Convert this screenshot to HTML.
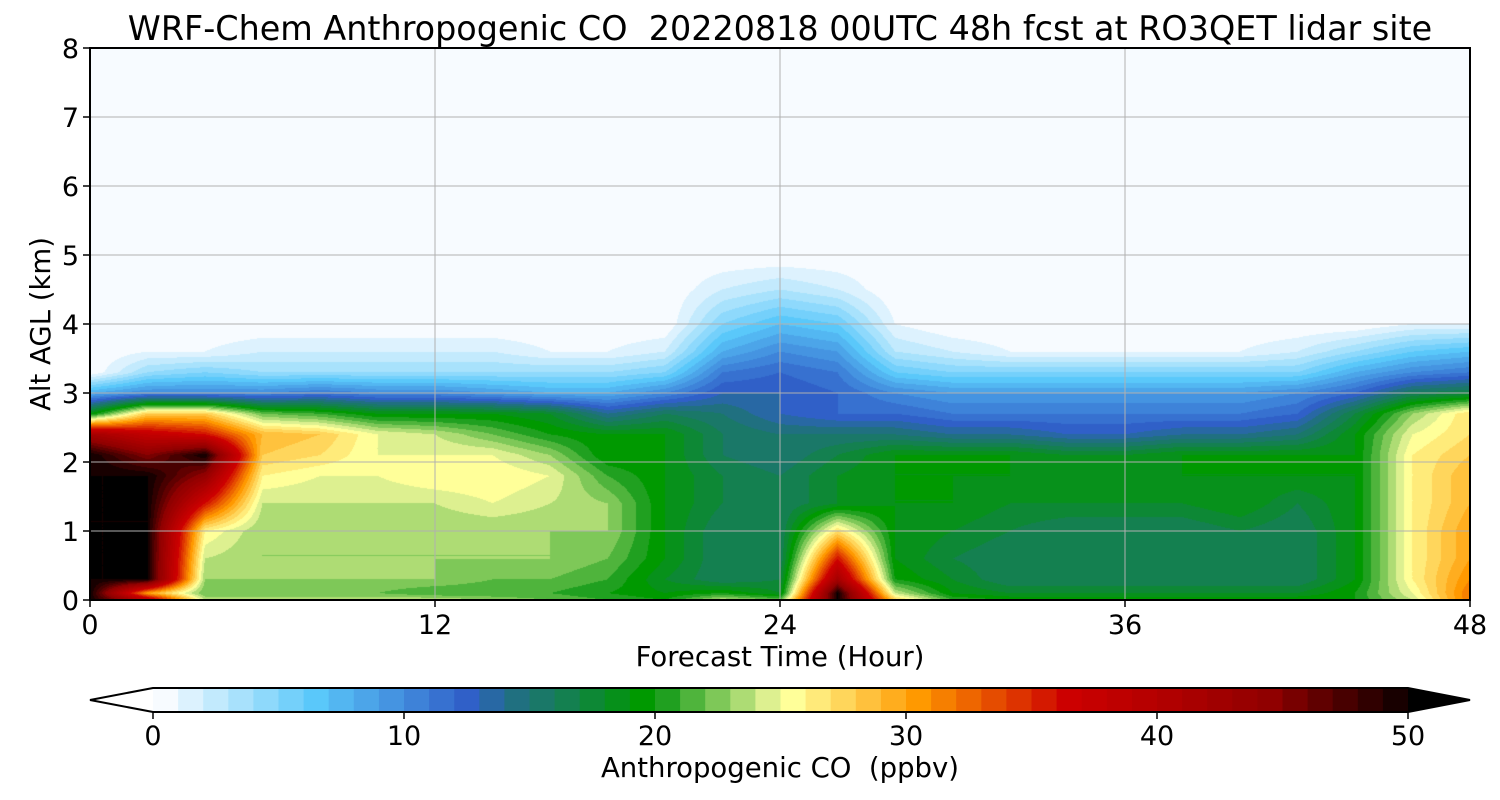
<!DOCTYPE html>
<html><head><meta charset="utf-8"><style>
body{margin:0;background:#fff;width:1500px;height:800px;overflow:hidden;font-family:"Liberation Sans","DejaVu Sans",sans-serif}
#wrap{position:relative;width:1500px;height:800px}
canvas{position:absolute;left:90px;top:48px}
svg{position:absolute;left:0;top:0}
</style></head><body><div id="wrap">
<canvas id="cv" width="1380" height="552"></canvas>
<svg id="sv" width="1500" height="800" font-family="DejaVu Sans, Liberation Sans, sans-serif">
<text x="780" y="40" text-anchor="middle" font-size="33.4" fill="#000">WRF-Chem Anthropogenic CO&#160; 20220818 00UTC 48h fcst at RO3QET lidar site</text>
<g id="grid"></g>
<rect x="90" y="48" width="1380" height="552" fill="none" stroke="#000" stroke-width="2"/>
<g id="axes"></g>
<text x="780" y="666" text-anchor="middle" font-size="27.5">Forecast Time (Hour)</text>
<text transform="translate(50,324) rotate(-90)" text-anchor="middle" font-size="27.5">Alt AGL (km)</text>
<g id="cbar"></g>
<text x="780" y="777" text-anchor="middle" font-size="27.5">Anthropogenic CO&#160; (ppbv)</text>
</svg></div>
<script>
const times=[0,2,4,6,8,10,12,14,16,18,20,22,24,26,28,30,32,34,36,38,40,42,44,46,48];
const alts=[0,0.1,0.3,0.6,1.0,1.4,1.8,2.1,2.4,2.7,3.0,3.3,3.6,4.0,4.5,5.0,8.0];
const vals=[
[50,40,24,24,24,24,24,23,22,21,20,24,22,50,28,21,20,20,20,20,20,20,20,24,32],
[50,30,22,22,22,22,21,21,21,20,19,20,18,50,24,19,18,18,18,18,18,18,20,25,32],
[50,50,23,23,23,23,23,22,22,21,18,16,17,42,20,18,16,16,16,16,16,16,19,26,31],
[50,50,24,23,23,23,23,23,23,22,19,16,16,36,19,17,16,16,16,16,16,16,19,26,30],
[50,50,26,23,23,23,23,23,23,23,19,16,16,27,19,18,17,16,16,16,17,16,19,26,30],
[50,50,36,24,24,24,24,25,24,23,19,17,16,18,19,19,18,18,18,18,19,17,19,26,29],
[50,50,44,26,25,25,26,26,25,21,19,17,16,18,19,19,19,19,19,19,19,19,19,26,29],
[50,45,50,28,27,25,25,25,23,19,19,16,15,17,19,19,19,18,18,19,19,19,19,26,28],
[42,38,36,29,28,25,24,22,20,19,19,16,15,15,15,14,14,13,13,14,14,15,19,25,27],
[19,28,28,22,21,19,19,19,18,14,16,15,13,12,12,11,11,11,11,11,11,12,17,23,27],
[8,10,10,10,11,10,10,9,8,8,10,13,13,12,10,9,9,9,9,9,9,10,12,16,17],
[0,4,5,4,4,4,4,4,4,4,5,11,12,11,6,5,5,5,5,5,5,5,8,10,11],
[0,1,1,2,2,2,2,2,1,1,2,8,10,9,3,2,1,1,1,1,1,2,4,6,7],
[0,0,0,0,0,0,0,0,0,0,0,5,7,6,1,0,0,0,0,0,0,0,0,1,1],
[0,0,0,0,0,0,0,0,0,0,0,2,3,2,0,0,0,0,0,0,0,0,0,0,0],
[0,0,0,0,0,0,0,0,0,0,0,0,0,0,0,0,0,0,0,0,0,0,0,0,0],
[0,0,0,0,0,0,0,0,0,0,0,0,0,0,0,0,0,0,0,0,0,0,0,0,0]];
const xTicks=[0,12,24,36,48];
const yTicks=[0,1,2,3,4,5,6,7,8];
const cTicks=[0,10,20,30,40,50];
const cmapV=[0,6,12,14,16,19,20,24,25,30,36,40,44,50];
const cmapC=['#f7fbff','#5ac8fa','#3060c8','#207080','#148050','#009900','#20a020','#ddf090','#ffff99','#ff9900','#cc0000','#b00000','#900000','#000000'];
const X=t=>90+t/48*1380, Y=z=>600-z/8*552;
function hex(h){return[parseInt(h.substr(1,2),16),parseInt(h.substr(3,2),16),parseInt(h.substr(5,2),16)]}
const CC=cmapC.map(hex);
function cmap(v){v=Math.max(0,Math.min(50,Math.floor(v)));
 for(let i=0;i<cmapV.length-1;i++){if(v<=cmapV[i+1]){const f=(v-cmapV[i])/(cmapV[i+1]-cmapV[i]);const a=CC[i],b=CC[i+1];return[a[0]+(b[0]-a[0])*f,a[1]+(b[1]-a[1])*f,a[2]+(b[2]-a[2])*f];}}
 return CC[CC.length-1];}
function seg(arr,v){for(let i=0;i<arr.length-1;i++)if(v<=arr[i+1])return i;return arr.length-2;}
const cv=document.getElementById('cv'),ctx=cv.getContext('2d');
const img=ctx.createImageData(1380,552);
for(let py=0;py<552;py++){const z=(600-(48+py+0.5))/552*8;const j=seg(alts,z);const fz=(z-alts[j])/(alts[j+1]-alts[j]);
 for(let px=0;px<1380;px++){const t=(px+0.5)/1380*48;const i=seg(times,t);const ft=(t-times[i])/(times[i+1]-times[i]);
  const v=(vals[j][i]*(1-ft)+vals[j][i+1]*ft)*(1-fz)+(vals[j+1][i]*(1-ft)+vals[j+1][i+1]*ft)*fz;
  const c=cmap(v),k=(py*1380+px)*4;img.data[k]=c[0];img.data[k+1]=c[1];img.data[k+2]=c[2];img.data[k+3]=255;}}
ctx.putImageData(img,0,0);
const NS='http://www.w3.org/2000/svg';
function el(tag,attrs,parent,txt){const e=document.createElementNS(NS,tag);for(const k in attrs)e.setAttribute(k,attrs[k]);if(txt!==undefined)e.textContent=txt;parent.appendChild(e);return e;}
const grid=document.getElementById('grid'),axes=document.getElementById('axes'),cbar=document.getElementById('cbar');
xTicks.forEach(t=>{const l=el('line',{x1:X(t),x2:X(t),y1:48,y2:600,stroke:'#b0b0b0','stroke-width':1},grid);
 
 
 el('line',{x1:X(t),x2:X(t),y1:600,y2:607,stroke:'#000','stroke-width':1.5},axes);
 const tx=el('text',{x:X(t),y:634,'text-anchor':'middle','font-size':27},axes,String(t));
 
 });
yTicks.forEach(z=>{const l=el('line',{x1:90,x2:1470,y1:Y(z),y2:Y(z),stroke:'#b0b0b0','stroke-width':1},grid);
 
 
 el('line',{x1:83,x2:90,y1:Y(z),y2:Y(z),stroke:'#000','stroke-width':1.5},axes);
 const tx=el('text',{x:79,y:Y(z)+10,'text-anchor':'end','font-size':27},axes,String(z));
 
 });
const C=v=>153+v/50*1255;
for(let v=0;v<50;v++){const c=cmap(v);const r=el('rect',{x:C(v),y:688,width:1255/50+0.6,height:24,fill:`rgb(${c[0]|0},${c[1]|0},${c[2]|0})`},cbar);
 
 }
el('polygon',{points:'153,688 90,700 153,712',fill:'#fff',stroke:'none'},cbar);
el('polygon',{points:'1408,688 1470,700 1408,712',fill:'#000',stroke:'none'},cbar);
el('polygon',{points:'153,688 90,700 153,712 1408,712 1470,700 1408,688',fill:'none',stroke:'#000','stroke-width':2},cbar);
cTicks.forEach(v=>{el('line',{x1:C(v),x2:C(v),y1:712,y2:719,stroke:'#000','stroke-width':1.5},cbar);
 const tx=el('text',{x:C(v),y:745,'text-anchor':'middle','font-size':27},cbar,String(v));
 
 });
</script></body></html>
